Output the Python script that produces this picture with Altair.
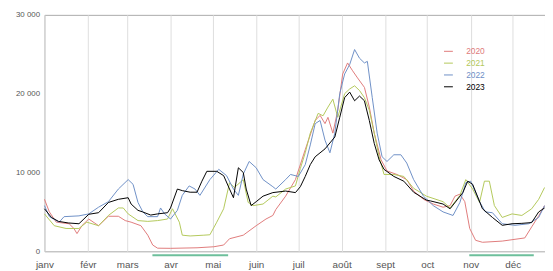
import altair as alt
import pandas as pd

# Month tick positions (day of year) and labels
month_days = [0, 31, 59, 90, 120, 151, 181, 212, 243, 273, 304, 334]
month_labels = ["janv", "févr", "mars", "avr", "mai", "juin", "juil", "août", "sept", "oct", "nov", "déc"]

years = ["2020", "2021", "2022", "2023"]
colors = ["#e07b7b", "#b3c85a", "#6e8fc6", "#000000"]

days_2020 = [0, 3.5, 8.4, 17.6, 21, 23.2, 26.7, 31.6, 38.6, 45.6, 52.7, 57.6, 61.8, 68.8, 73.7, 77.2, 80.7, 89.9, 108.8, 120.8, 127.8, 132, 141.8, 151, 158, 162.9, 165, 172, 179, 186, 193.1, 196.6, 200.1, 202.2, 205.7, 209.2, 212.7, 216.2, 219.8, 223.3, 228.2, 231.7, 235.2, 240.1, 244.3, 251.4, 258.4, 263.3, 270.3, 277.3, 284.3, 289.3, 292.8, 296.3, 299.8, 303.3, 307.5, 312.4, 326.5, 342.6, 347.5, 352.5, 356.7]
vals_2020 = [6600, 5000, 3700, 3500, 2900, 2250, 3250, 4100, 3250, 4450, 4450, 3900, 3700, 3250, 2050, 800, 400, 380, 450, 580, 800, 1600, 2050, 3250, 4100, 4550, 5300, 7000, 9100, 12900, 16600, 17250, 16200, 17000, 15000, 17900, 22500, 23900, 22900, 22000, 20800, 18300, 15000, 11600, 10200, 9750, 9100, 7650, 6600, 6000, 5600, 5800, 7000, 7250, 6300, 2900, 1400, 1150, 1300, 1700, 3100, 4500, 5800]

days_2021 = [0, 7, 15.4, 24.6, 30.2, 38.6, 45.6, 52.7, 56.2, 59.7, 66.7, 73.7, 80.7, 87.8, 91.3, 96.2, 98.3, 103.9, 113.7, 118, 122.9, 127.8, 132, 135.5, 141.8, 145.3, 148.8, 155.9, 162.9, 165, 172, 179, 182.5, 186, 189.6, 195.2, 198.7, 202.2, 205.7, 209.2, 214.1, 217.7, 221.2, 224.7, 228.2, 231.7, 235.2, 238.7, 242.2, 249.2, 256.3, 263.3, 272.4, 284.3, 289.3, 296.3, 300.5, 305.4, 310.3, 313.8, 317.3, 320.9, 326.5, 333.5, 340.5, 347.5, 352.5, 356.7]
vals_2021 = [4750, 3250, 2900, 2900, 3700, 3250, 4550, 5500, 5500, 4750, 3900, 3800, 3900, 4100, 5400, 3700, 2050, 1950, 2050, 2100, 3700, 5400, 8700, 8100, 9100, 6200, 5800, 6000, 7000, 6900, 7900, 8300, 10500, 12500, 15000, 17500, 17200, 18300, 19300, 17000, 20000, 20600, 21000, 20400, 19500, 17900, 15000, 12000, 9750, 9750, 9500, 8000, 7000, 6300, 5500, 7100, 9100, 7900, 6200, 8900, 8900, 5800, 4300, 4750, 4550, 5400, 6600, 8100]

days_2022 = [0, 3.5, 10.5, 14, 24.6, 31.6, 38.6, 45.6, 52.7, 59.7, 63.2, 66.7, 70.2, 73.7, 80.7, 82.8, 85.7, 89.9, 94.8, 98.3, 103.2, 107.4, 110.9, 118, 124.3, 129.9, 134.8, 138.3, 141.8, 146, 151, 155.9, 162.9, 165, 172, 175.5, 181.1, 186, 189.6, 193.1, 196.6, 200.1, 203.6, 207.1, 210.6, 214.1, 217.7, 221.2, 224.7, 228.2, 230.3, 233.8, 237.3, 240.8, 244.3, 249.2, 254.2, 258.4, 263.3, 270.3, 277.3, 284.3, 291.4, 296.3, 300.5, 304, 310.3, 314.5, 319.5, 326.5, 335.6, 345.4, 352.5, 356.7]
vals_2022 = [5800, 4400, 3700, 4400, 4500, 4750, 5600, 6300, 7900, 9100, 8500, 6200, 5000, 4400, 4400, 5500, 4750, 4100, 5200, 7100, 8300, 7900, 7100, 9100, 10400, 9600, 7900, 7100, 9800, 11400, 10600, 9100, 8200, 7900, 9100, 9750, 9500, 11000, 13500, 16200, 16600, 14100, 12500, 15000, 20000, 22500, 23700, 25600, 24500, 23900, 24100, 19500, 15000, 12000, 11400, 12250, 12250, 11200, 9100, 7000, 5800, 5000, 4550, 6200, 8700, 8900, 6300, 5000, 4900, 3500, 3300, 3500, 4300, 5800]

days_2023 = [0, 5, 10, 17, 24.6, 31.6, 38.6, 45.6, 52.7, 59.7, 61.8, 66.7, 70, 75.8, 80.7, 87.8, 89.9, 94.8, 98.3, 103.9, 108.8, 112.3, 115.8, 122.9, 127.8, 132, 134.8, 138.3, 141.8, 143.9, 147.4, 151, 155.9, 162.9, 172, 179, 182.5, 186, 189.6, 193.1, 200.1, 207.1, 210.6, 214.1, 217.7, 221.2, 224.7, 228.2, 231.7, 235.2, 238.7, 242.2, 249.2, 256.3, 263.3, 272.4, 275.2, 284.3, 289.3, 298.4, 301.9, 305.4, 312.4, 319.5, 326.5, 333.5, 340.5, 347.5, 352.5, 356.7]
vals_2023 = [5400, 4300, 3800, 3600, 3500, 4700, 4900, 6200, 6600, 6800, 6000, 5200, 5000, 4600, 4750, 4900, 5500, 7900, 7700, 7500, 7500, 8900, 10150, 10150, 9600, 7900, 6800, 10600, 10000, 7900, 5800, 6300, 7000, 7450, 7650, 7450, 8200, 9500, 11000, 12000, 13000, 14500, 17000, 19500, 20200, 19100, 19700, 19100, 16600, 13700, 11600, 10400, 9500, 8900, 7500, 6500, 6400, 6000, 5400, 7450, 8900, 8500, 5400, 4300, 3300, 3500, 3550, 3650, 5000, 5500]

# Lockdown periods (day of year)
lock_start = [77, 303]
lock_end = [131, 349]
lock_y = [-500, -500]

rows = []
for y, d, v in [("2020", days_2020, vals_2020), ("2021", days_2021, vals_2021),
                ("2022", days_2022, vals_2022), ("2023", days_2023, vals_2023)]:
    for di, vi in zip(d, v):
        rows.append({"year": y, "day": di, "value": vi})
df = pd.DataFrame(rows)
locks = pd.DataFrame({"start": lock_start, "end": lock_end, "y": lock_y})

label_expr = "[" + ",".join("'%s'" % m for m in month_labels) + "][indexof([" + \
    ",".join(str(m) for m in month_days) + "], datum.value)]"

color_expr = ("datum.label == '2020' ? '%s' : datum.label == '2021' ? '%s' : "
              "datum.label == '2022' ? '%s' : '%s'") % tuple(colors)

x_scale = alt.Scale(domain=[0, 357], nice=False, zero=False)
y_scale = alt.Scale(domain=[0, 30000], nice=False)

lines = alt.Chart(df).mark_line(interpolate="linear").encode(
    x=alt.X("day:Q", scale=x_scale,
            axis=alt.Axis(values=month_days, labelExpr=label_expr, grid=True,
                          gridColor="#dddddd", ticks=False, domain=False,
                          labelPadding=8, labelFontSize=10, labelColor="#555555",
                          labelFont="Liberation Sans", title=None, labelFlush=False)),
    y=alt.Y("value:Q", scale=y_scale,
            axis=alt.Axis(values=[0, 5000, 10000, 15000, 20000, 25000, 30000],
                          labelExpr="replace(format(datum.value, ','), ',', ' ')",
                          grid=False, ticks=False, domain=False, labelPadding=5,
                          labelFontSize=8, labelColor="#555555",
                          labelFont="Liberation Sans", title=None)),
    color=alt.Color("year:N", scale=alt.Scale(domain=years, range=colors),
                    legend=alt.Legend(orient="none", legendX=405, legendY=32,
                                      title=None, symbolType="stroke", symbolSize=81,
                                      symbolStrokeWidth=1.5, labelOffset=13,
                                      rowPadding=2, padding=0, labelFontSize=8.5,
                                      labelFont="Liberation Sans",
                                      labelColor=alt.ExprRef(color_expr))),
    strokeWidth=alt.StrokeWidth("year:N",
                                scale=alt.Scale(domain=years, range=[1, 1, 1, 1.6]),
                                legend=None),
)

rules = alt.Chart(locks).mark_rule(color="#6dbf9b", strokeWidth=2).encode(
    x=alt.X("start:Q", scale=x_scale),
    x2="end:Q",
    y=alt.Y("y:Q", scale=y_scale),
)

chart = alt.layer(rules, lines).properties(
    width=508, height=240,
    autosize=alt.AutoSizeParams(type="none"),
    padding={"left": 37, "top": 5, "right": 0, "bottom": 18},
    background="white",
).configure_view(stroke="#aaaaaa")

chart.save("out.html", embed_options={"renderer": "svg", "actions": False})
